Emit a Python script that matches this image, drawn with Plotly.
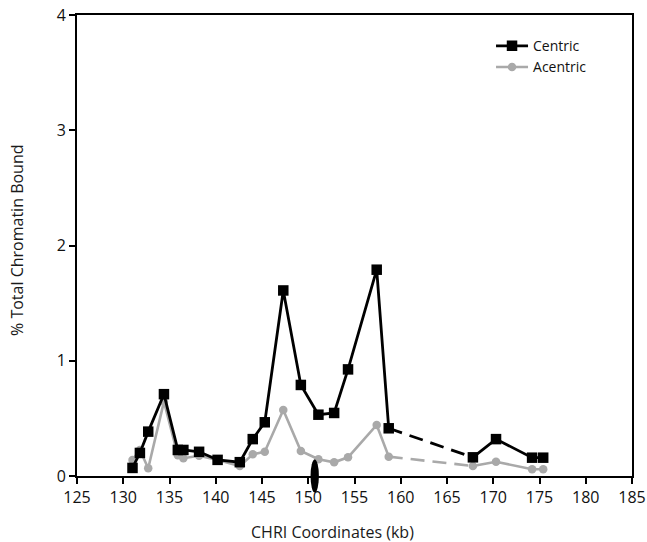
import plotly.graph_objects as go

# Data
kb = [131.0, 131.8, 132.7, 134.4, 135.9, 136.5, 138.2, 140.2, 142.6, 144.0, 145.3,
      147.3, 149.2, 151.1, 152.8, 154.3, 157.4, 158.7, 167.8, 170.3, 174.2, 175.4]
centric = [0.07, 0.20, 0.385, 0.71, 0.226, 0.226, 0.21, 0.14, 0.12, 0.32, 0.466,
           1.61, 0.79, 0.532, 0.547, 0.925, 1.79, 0.414, 0.162, 0.32, 0.159, 0.159]
acentric = [0.139, 0.226, 0.067, 0.645, 0.18, 0.154, 0.176, 0.139, 0.087, 0.188, 0.211,
            0.573, 0.217, 0.145, 0.119, 0.162, 0.443, 0.168, 0.087, 0.124, 0.058, 0.058]
gap_index = 17  # segment between point 17 and 18 is dashed
centromere_kb = 150.7
x_ticks = list(range(125, 186, 5))
y_ticks = [0, 1, 2, 3, 4]
x_title = "CHRI Coordinates (kb)"
y_title = "% Total Chromatin Bound"

BLACK = "#000000"
GRAY = "#a9a9a9"
FONT = "Open Sans"

fig = go.Figure()

def add_series(y, name, color, symbol, msize, lw):
    a = slice(0, gap_index + 1)
    b = slice(gap_index + 1, None)
    d = slice(gap_index, gap_index + 2)
    fig.add_trace(go.Scatter(x=kb[d], y=y[d], mode="lines", showlegend=False,
                             line=dict(color=color, width=lw, dash="14px,8px"),
                             hoverinfo="skip"))
    fig.add_trace(go.Scatter(x=kb[a], y=y[a], mode="lines+markers", name=name,
                             legendgroup=name,
                             line=dict(color=color, width=lw),
                             marker=dict(symbol=symbol, size=msize, color=color)))
    fig.add_trace(go.Scatter(x=kb[b], y=y[b], mode="lines+markers", name=name,
                             legendgroup=name, showlegend=False,
                             line=dict(color=color, width=lw),
                             marker=dict(symbol=symbol, size=msize, color=color)))

add_series(acentric, "Acentric", GRAY, "circle", 8.5, 2.6)
add_series(centric, "Centric", BLACK, "square", 10.5, 2.8)

fig.add_shape(type="circle", xref="x", yref="paper",
              x0=centromere_kb - 0.45, x1=centromere_kb + 0.45,
              y0=-0.036, y1=0.036, fillcolor=BLACK, line=dict(color=BLACK, width=0))

fig.add_annotation(text=x_title, xref="paper", yref="paper", x=0.46, y=-0.122,
                   xanchor="center", yanchor="middle", showarrow=False,
                   font=dict(size=16, family=FONT, color="#1a1a1a"))
fig.add_annotation(text=y_title, xref="paper", yref="paper", x=-0.108, y=0.51,
                   xanchor="center", yanchor="middle", showarrow=False, textangle=-90,
                   font=dict(size=16, family=FONT, color="#1a1a1a"))

fig.update_layout(
    width=647, height=542,
    margin=dict(l=77, r=15, t=15, b=66, autoexpand=False),
    paper_bgcolor="white", plot_bgcolor="white",
    font=dict(family=FONT, color="#111111"),
    legend=dict(x=0.746, y=0.967, xanchor="left", yanchor="top",
                traceorder="reversed",
                font=dict(size=14, family=FONT, color="#111111"),
                bgcolor="rgba(0,0,0,0)", itemwidth=32, tracegroupgap=0),
    xaxis=dict(range=[125, 185], tickvals=x_ticks, ticktext=[str(t) for t in x_ticks],
               automargin=False,
               showline=True, linecolor=BLACK, linewidth=2, mirror=True,
               ticks="outside", ticklen=6, tickwidth=2, tickcolor=BLACK,
               showgrid=False, zeroline=False,
               tickfont=dict(size=16, family=FONT, color="#111111")),
    yaxis=dict(range=[0, 4], tickvals=y_ticks, ticktext=[str(t) for t in y_ticks],
               automargin=False,
               showline=True, linecolor=BLACK, linewidth=2, mirror=True,
               ticks="outside", ticklen=6, tickwidth=2, tickcolor=BLACK,
               showgrid=False, zeroline=False,
               tickfont=dict(size=16, family=FONT, color="#111111")),
)

fig.write_html("out.html", config={"displayModeBar": False},
               post_script="document.body.style.margin='0';document.body.style.overflow='hidden';")
